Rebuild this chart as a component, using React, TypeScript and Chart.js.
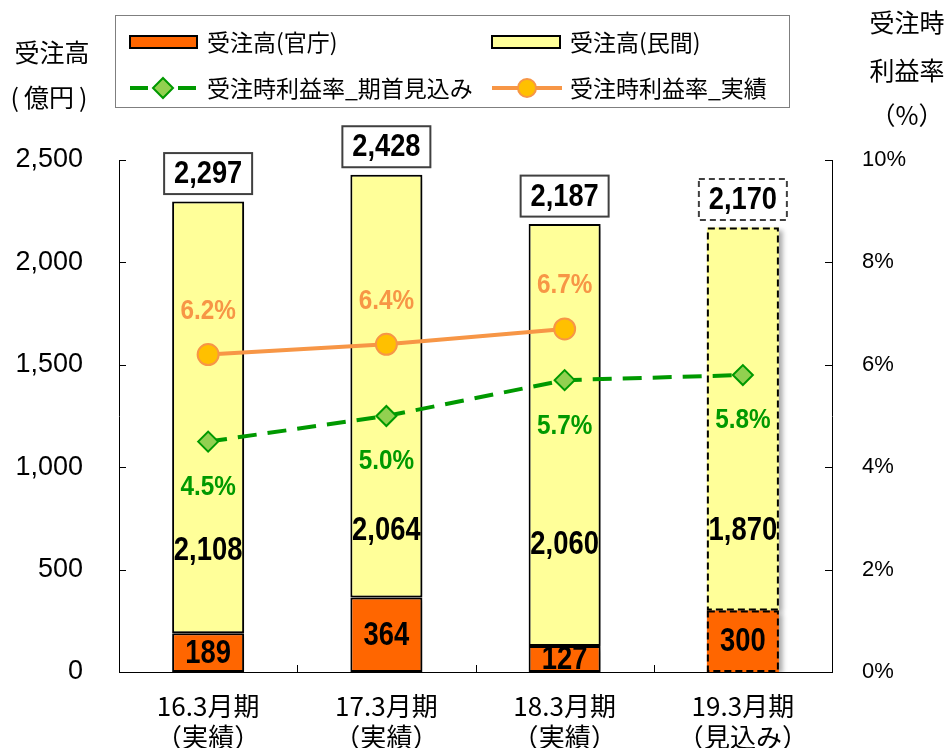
import React, { useEffect, useRef } from 'react';
import { Chart, registerables } from 'chart.js';

Chart.register(...registerables);

const categories: string[][] = [
  ['16.3月期', '（実績）'],
  ['17.3月期', '（実績）'],
  ['18.3月期', '（実績）'],
  ['19.3月期', '（見込み）'],
];
const govOrders = [189, 364, 127, 300];
const privateOrders = [2108, 2064, 2060, 1870];
const totals = [2297, 2428, 2187, 2170];
const planRate = [4.5, 5.0, 5.7, 5.8];
const actualRate: (number | null)[] = [6.2, 6.4, 6.7, null];
// value (億円) at which each 民間 label sits
const privateLabelAt = [590, 690, 620, 690];
const forecastIndex = 3;

const seriesNames = ['受注高(官庁)', '受注高(民間)', '受注時利益率_期首見込み', '受注時利益率_実績'];

const CJK = "'Noto Sans CJK JP', sans-serif";
const SANS = "'Liberation Sans', Arial, sans-serif";

const ORANGE = '#FF6600';
const YELLOW = '#FFFF99';
const GREEN = '#009900';
const GREEN_FILL = '#92D050';
const LINE_ORANGE = '#F79646';
const DOT = '#FFC000';

const fmt = (n: number) => n.toLocaleString('en-US');

function condensed(ctx: CanvasRenderingContext2D, text: string, x: number, y: number, sx: number) {
  ctx.save();
  ctx.translate(x, y);
  ctx.scale(sx, 1);
  ctx.textAlign = 'center';
  ctx.textBaseline = 'middle';
  ctx.fillText(text, 0, 0);
  ctx.restore();
}

const decorPlugin = {
  id: 'decor',
  beforeDatasetDraw(chart: any, args: any) {
    const ds = chart.data.datasets[args.index];
    if (ds.type === 'bar') {
      const ctx = chart.ctx;
      ctx.shadowColor = 'rgba(0,0,0,0.35)';
      ctx.shadowBlur = 5;
      ctx.shadowOffsetX = 4;
      ctx.shadowOffsetY = 2;
    }
  },
  afterDatasetDraw(chart: any) {
    const ctx = chart.ctx;
    ctx.shadowColor = 'rgba(0,0,0,0)';
    ctx.shadowBlur = 0;
    ctx.shadowOffsetX = 0;
    ctx.shadowOffsetY = 0;
  },
  afterDatasetsDraw(chart: any) {
    const ctx = chart.ctx;
    const y = chart.scales.y;
    const metaGov = chart.getDatasetMeta(0);
    const metaPriv = chart.getDatasetMeta(1);
    ctx.save();
    // dashed outline for forecast bar
    [metaGov, metaPriv].forEach((meta: any) => {
      const el = meta.data[forecastIndex];
      const p = el.getProps(['x', 'y', 'base', 'width'], true);
      const left = p.x - p.width / 2;
      const top = Math.min(p.y, p.base);
      const h = Math.abs(p.base - p.y);
      ctx.setLineDash([7, 4]);
      ctx.lineWidth = 2;
      ctx.strokeStyle = '#000';
      ctx.strokeRect(left + 1, top + 1, p.width - 2, h - 2);
    });
    ctx.setLineDash([]);

    // segment labels
    ctx.fillStyle = '#000';
    ctx.font = `bold 33px ${SANS}`;
    metaGov.data.forEach((el: any, i: number) => {
      const p = el.getProps(['x', 'y', 'base'], true);
      condensed(ctx, fmt(govOrders[i]), p.x, (p.y + p.base) / 2 + 1, 0.83);
    });
    metaPriv.data.forEach((el: any, i: number) => {
      const p = el.getProps(['x'], true);
      condensed(ctx, fmt(privateOrders[i]), p.x, y.getPixelForValue(privateLabelAt[i]), 0.83);
    });

    // total boxes
    metaPriv.data.forEach((el: any, i: number) => {
      const p = el.getProps(['x', 'y'], true);
      const cy = p.y - 28;
      const w = 88, h = 41;
      ctx.fillStyle = '#fff';
      ctx.fillRect(p.x - w / 2, cy - h / 2, w, h);
      ctx.strokeStyle = '#404040';
      ctx.lineWidth = 2;
      ctx.setLineDash(i === forecastIndex ? [6, 4] : []);
      ctx.strokeRect(p.x - w / 2, cy - h / 2, w, h);
      ctx.setLineDash([]);
      ctx.fillStyle = '#000';
      ctx.font = `bold 31px ${SANS}`;
      condensed(ctx, fmt(totals[i]), p.x, cy + 1, 0.88);
    });

    // line labels
    ctx.font = `bold 27px ${SANS}`;
    const metaPlan = chart.getDatasetMeta(2);
    metaPlan.data.forEach((el: any, i: number) => {
      const p = el.getProps(['x', 'y'], true);
      ctx.fillStyle = GREEN;
      condensed(ctx, planRate[i].toFixed(1) + '%', p.x, p.y + 46, 0.9);
    });
    const metaAct = chart.getDatasetMeta(3);
    metaAct.data.forEach((el: any, i: number) => {
      const v = actualRate[i];
      if (v == null) return;
      const p = el.getProps(['x', 'y'], true);
      ctx.fillStyle = LINE_ORANGE;
      condensed(ctx, v.toFixed(1) + '%', p.x, p.y - 43, 0.9);
    });
    ctx.restore();
  },
  afterDraw(chart: any) {
    const ctx = chart.ctx;
    const area = chart.chartArea;
    const x = chart.scales.x;
    const y = chart.scales.y;
    const y1 = chart.scales.y1;
    ctx.save();
    // inward tick marks
    ctx.strokeStyle = '#000';
    ctx.lineWidth = 1;
    ctx.beginPath();
    y.ticks.forEach((t: any) => {
      const py = Math.round(y.getPixelForValue(t.value)) + 0.5;
      ctx.moveTo(area.left, py);
      ctx.lineTo(area.left + 7, py);
    });
    y1.ticks.forEach((t: any) => {
      const py = Math.round(y1.getPixelForValue(t.value)) + 0.5;
      ctx.moveTo(area.right, py);
      ctx.lineTo(area.right - 7, py);
    });
    for (let i = 0; i < categories.length - 1; i++) {
      const px = Math.round((x.getPixelForValue(i) + x.getPixelForValue(i + 1)) / 2) + 0.5;
      ctx.moveTo(px, area.bottom);
      ctx.lineTo(px, area.bottom - 7);
    }
    ctx.stroke();

    // axis titles
    ctx.fillStyle = '#000';
    ctx.textAlign = 'center';
    ctx.textBaseline = 'middle';
    ctx.font = `25px ${CJK}`;
    ctx.fillText('受注高', 52, 52);
    ctx.fillText('(\u2009億円\u2009)', 49, 97);
    ctx.fillText('受注時', 907, 22);
    ctx.fillText('利益率', 907, 70);
    ctx.fillText('（%）', 907, 115);

    // legend
    ctx.strokeStyle = '#7f7f7f';
    ctx.lineWidth = 1;
    ctx.strokeRect(115.5, 15.5, 674, 92);
    const names = chart.data.datasets.map((d: any) => d.label);
    const r1 = 42, r2 = 88;
    ctx.lineWidth = 2;
    ctx.strokeStyle = '#000';
    ctx.fillStyle = ORANGE;
    ctx.fillRect(130, r1 - 6, 67, 12);
    ctx.strokeRect(130, r1 - 6, 67, 12);
    ctx.fillStyle = YELLOW;
    ctx.fillRect(492, r1 - 6, 68, 12);
    ctx.strokeRect(492, r1 - 6, 68, 12);
    // green line + diamond
    ctx.strokeStyle = GREEN;
    ctx.lineWidth = 4;
    ctx.beginPath();
    ctx.moveTo(130, r2);
    ctx.lineTo(148, r2);
    ctx.moveTo(178, r2);
    ctx.lineTo(196, r2);
    ctx.stroke();
    ctx.lineWidth = 2;
    ctx.fillStyle = GREEN_FILL;
    ctx.beginPath();
    ctx.moveTo(163, r2 - 10);
    ctx.lineTo(173, r2);
    ctx.lineTo(163, r2 + 10);
    ctx.lineTo(153, r2);
    ctx.closePath();
    ctx.fill();
    ctx.stroke();
    // orange line + circle
    ctx.strokeStyle = LINE_ORANGE;
    ctx.lineWidth = 4;
    ctx.beginPath();
    ctx.moveTo(492, r2);
    ctx.lineTo(562, r2);
    ctx.stroke();
    ctx.lineWidth = 2;
    ctx.fillStyle = DOT;
    ctx.beginPath();
    ctx.arc(527, r2, 9, 0, Math.PI * 2);
    ctx.fill();
    ctx.stroke();
    // legend text
    ctx.fillStyle = '#000';
    ctx.textAlign = 'left';
    ctx.font = `23px ${CJK}`;
    ctx.fillText(names[0], 207, r1);
    ctx.fillText(names[1], 570, r1);
    ctx.fillText(names[2], 207, r2);
    ctx.fillText(names[3], 570, r2);
    ctx.restore();
  },
};

export default function App() {
  const ref = useRef<HTMLCanvasElement | null>(null);

  useEffect(() => {
    if (!ref.current) return;
    const chart = new Chart(ref.current, {
      type: 'bar',
      data: {
        labels: categories as any,
        datasets: [
          {
            type: 'bar',
            label: seriesNames[0],
            data: govOrders,
            backgroundColor: ORANGE,
            borderColor: '#000',
            borderWidth: [2, 2, 2, 0] as any,
            borderSkipped: false,
            stack: 's',
            yAxisID: 'y',
            order: 2,
            barPercentage: 0.404,
            categoryPercentage: 1,
          },
          {
            type: 'bar',
            label: seriesNames[1],
            data: privateOrders,
            backgroundColor: YELLOW,
            borderColor: '#000',
            borderWidth: [2, 2, 2, 0] as any,
            borderSkipped: false,
            stack: 's',
            yAxisID: 'y',
            order: 2,
            barPercentage: 0.404,
            categoryPercentage: 1,
          },
          {
            type: 'line',
            label: seriesNames[2],
            data: planRate,
            yAxisID: 'y1',
            borderColor: GREEN,
            borderWidth: 4,
            borderDash: [19, 11],
            pointStyle: 'rectRot',
            pointRadius: 10,
            pointBackgroundColor: GREEN_FILL,
            pointBorderColor: GREEN,
            pointBorderWidth: 2,
            tension: 0,
            order: 0,
          },
          {
            type: 'line',
            label: seriesNames[3],
            data: actualRate,
            yAxisID: 'y1',
            borderColor: LINE_ORANGE,
            borderWidth: 4,
            pointStyle: 'circle',
            pointRadius: 10.5,
            pointBackgroundColor: DOT,
            pointBorderColor: LINE_ORANGE,
            pointBorderWidth: 2,
            tension: 0,
            order: 0,
          },
        ] as any,
      },
      options: {
        responsive: false,
        animation: false,
        layout: { padding: { top: 160, left: 0, right: 0, bottom: 0 } },
        plugins: {
          legend: { display: false },
          tooltip: { enabled: false },
          title: { display: false },
        },
        scales: {
          x: {
            stacked: true,
            grid: { display: false },
            border: { display: true, color: '#000', width: 1 },
            ticks: {
              color: '#000',
              font: { family: CJK, size: 26, lineHeight: 1.22 },
              padding: 10,
              maxRotation: 0,
              autoSkip: false,
            },
            afterFit: (s: any) => { s.height = 76; },
          },
          y: {
            stacked: true,
            min: 0,
            max: 2500,
            position: 'left',
            grid: { display: false },
            border: { display: true, color: '#000', width: 1 },
            ticks: {
              stepSize: 500,
              color: '#000',
              padding: 28,
              font: { family: SANS, size: 27 },
              callback: (v: any) => fmt(Number(v)),
            },
            afterFit: (s: any) => { s.width = 119; },
          },
          y1: {
            min: 0,
            max: 10,
            position: 'right',
            grid: { display: false },
            border: { display: true, color: '#000', width: 1 },
            ticks: {
              stepSize: 2,
              color: '#000',
              padding: 22,
              font: { family: SANS, size: 22 },
              callback: (v: any) => `${v}%`,
            },
            afterFit: (s: any) => { s.width = 120; },
          },
        },
      },
      plugins: [decorPlugin],
    } as any);
    return () => chart.destroy();
  }, []);

  return (
    <div style={{ position: 'absolute', left: 0, top: 0, width: 952, height: 748, background: '#fff' }}>
      <canvas ref={ref} width={952} height={748} style={{ display: 'block' }} />
    </div>
  );
}
